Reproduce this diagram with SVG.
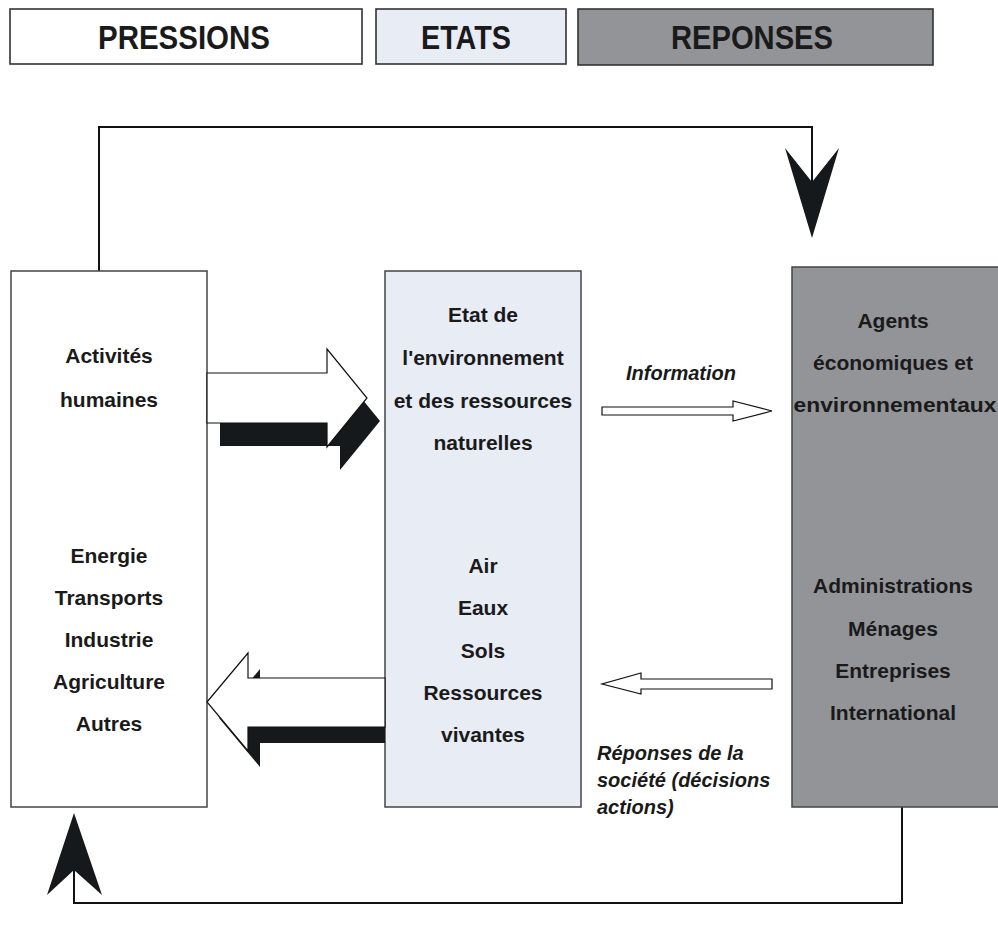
<svg xmlns="http://www.w3.org/2000/svg" width="998" height="933" viewBox="0 0 998 933">
<defs>
<style>
.hdr{stroke:#333;stroke-width:1.6}
.box{stroke:#444;stroke-width:1.5}
.ht{font-family:'Liberation Sans Narrow','Liberation Sans',Arial,sans-serif;font-size:33px;font-weight:bold;fill:#1a1a1a;text-anchor:middle}
.t{font-family:'Liberation Sans',Arial,sans-serif;font-size:21px;font-weight:bold;fill:#1a1a1a;text-anchor:middle}
.it{font-family:'Liberation Sans',Arial,sans-serif;font-size:20px;font-weight:bold;font-style:italic;fill:#1a1a1a}
.line{fill:none;stroke:#111;stroke-width:2}
.head{fill:#16191c}
.wa{fill:#fff;stroke:#111;stroke-width:1.2;stroke-linejoin:miter}
.sh{fill:#16191c}
.white{fill:#fff}
.etat{fill:#e8ecf5}
.gray{fill:#939498}
</style>
</defs>
<rect width="998" height="933" fill="#fff"/>
<g id="header-pressions">
<rect x="10" y="9" width="352" height="55" class="hdr white"/>
<text x="184" y="49" class="ht" textLength="172" lengthAdjust="spacingAndGlyphs">PRESSIONS</text>
</g>
<g id="header-etats">
<rect x="376" y="9" width="190" height="55" class="hdr etat"/>
<text x="466" y="49" class="ht" textLength="90" lengthAdjust="spacingAndGlyphs">ETATS</text>
</g>
<g id="header-reponses">
<rect x="578" y="9" width="355" height="56" class="hdr gray"/>
<text x="752" y="49" class="ht" textLength="162" lengthAdjust="spacingAndGlyphs">REPONSES</text>
</g>
<g id="connectors">
<polyline class="line" points="99,271 99,127 812,127 812,185"/>
<polygon class="head" points="785,148 812,182 839,148 812,238"/>
<polyline class="line" points="74,868 74,903 902,903 902,807"/>
<polygon class="head" points="47,895 74,870 102,895 74,813"/>
</g>
<g id="node-pressions">
<rect x="11" y="271" width="196" height="536" class="box white"/>
<text class="t" x="109" y="363">Activités</text>
<text class="t" x="109" y="407">humaines</text>
<text class="t" x="109" y="563">Energie</text>
<text class="t" x="109" y="605">Transports</text>
<text class="t" x="109" y="647">Industrie</text>
<text class="t" x="109" y="689">Agriculture</text>
<text class="t" x="109" y="731">Autres</text>
</g>
<g id="node-etats">
<rect x="385" y="271" width="196" height="536" class="box etat"/>
<text class="t" x="483" y="322">Etat de</text>
<text class="t" x="483" y="365">l'environnement</text>
<text class="t" x="483" y="408">et des ressources</text>
<text class="t" x="483" y="450">naturelles</text>
<text class="t" x="483" y="573">Air</text>
<text class="t" x="483" y="615">Eaux</text>
<text class="t" x="483" y="658">Sols</text>
<text class="t" x="483" y="700">Ressources</text>
<text class="t" x="483" y="742">vivantes</text>
</g>
<g id="node-reponses">
<rect x="792" y="267" width="212" height="540" class="box gray"/>
<text class="t" x="893" y="328">Agents</text>
<text class="t" x="893" y="370">économiques et</text>
<text class="t" x="895" y="412" textLength="203" lengthAdjust="spacingAndGlyphs">environnementaux</text>
<text class="t" x="893" y="593">Administrations</text>
<text class="t" x="893" y="636">Ménages</text>
<text class="t" x="893" y="678">Entreprises</text>
<text class="t" x="893" y="720">International</text>
</g>
<g id="arrow-pressure">
<polygon class="sh" points="220,396 340,396 340,372 380,421 340,470 340,446 220,446"/>
<polygon class="wa" points="207,373 327,373 327,349 367,398 327,447 327,423 207,423"/>
</g>
<g id="arrow-feedback">
<polygon class="sh" points="219,718 260,669 260,694 385,694 385,743 260,743 260,767"/>
<polygon class="wa" points="207,702 248,653 248,678 385,678 385,727 248,727 248,751"/>
</g>
<g id="arrow-information">
<polygon class="wa" points="602,407 733,407 733,401 772,411 733,421 733,415 602,415"/>
<text class="it" x="626" y="380">Information</text>
</g>
<g id="arrow-reponses">
<polygon class="wa" points="772,679 641,679 641,673 602,684 641,694 641,689 772,689"/>
<text class="it" x="597" y="760">Réponses de la</text>
<text class="it" x="597" y="787">société (décisions</text>
<text class="it" x="597" y="814">actions)</text>
</g>
</svg>
